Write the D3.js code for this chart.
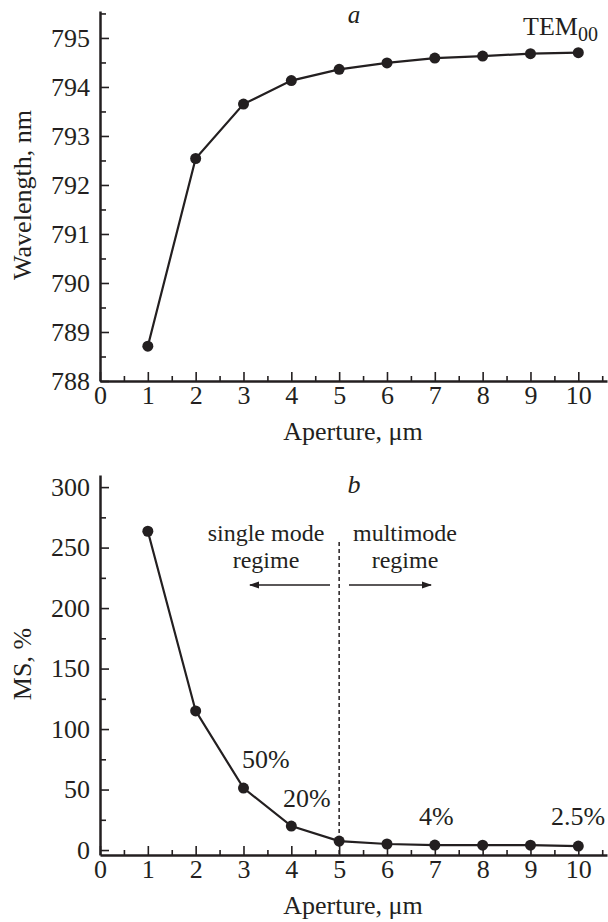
<!DOCTYPE html>
<html>
<head>
<meta charset="utf-8">
<script src="https://cdn.jsdelivr.net/npm/d3@7"></script>
<style>
  body { margin: 0; background: #fff; }
</style>
</head>
<body>
<div id="chart"></div>
<script>
// aperture values, shared by both panels
const aperture = [1, 2, 3, 4, 5, 6, 7, 8, 9, 10];
// panel a: wavelength, nm
const wavelength = [788.71, 792.54, 793.65, 794.13, 794.36, 794.49, 794.59, 794.63, 794.68, 794.70];
// panel b: MS, %
const ms = [263.5, 115, 51.2, 19.8, 7.4, 5.0, 4.1, 4.0, 4.0, 3.3];

const xTicks = d3.range(0, 11);
const xMinor = d3.range(0.5, 10.6, 1);
const yTicksA = d3.range(788, 796);
const yMinorA = d3.range(788.5, 795.6, 1);
const yTicksB = [0, 50, 100, 150, 200, 250, 300];
const yMinorB = [25, 75, 125, 175, 225, 275];

const width = 608, height = 922;
const ink = '#231f20';
const serif = '"Liberation Serif", "Times New Roman", Tinos, "Noto Serif", "DejaVu Serif", serif';
const fs = 26;

const svg = d3.select('#chart')
  .append('svg')
  .attr('width', width)
  .attr('height', height)
  .attr('font-family', serif);

svg.append('defs').append('marker')
  .attr('id', 'arrow')
  .attr('viewBox', '0 0 10 10')
  .attr('refX', 9).attr('refY', 5)
  .attr('markerWidth', 11).attr('markerHeight', 10)
  .attr('markerUnits', 'userSpaceOnUse')
  .attr('orient', 'auto')
  .append('path')
    .attr('d', 'M0,1.5 L10,5 L0,8.5 Z')
    .attr('fill', ink);

const x = d3.scaleLinear().domain([0, 10.6]).range([100, 607]);

function label(g, txt, px, py, opts = {}) {
  return g.append('text')
    .attr('x', px).attr('y', py)
    .attr('text-anchor', opts.anchor || 'start')
    .attr('font-family', serif)
    .attr('font-size', opts.size || fs)
    .attr('font-style', opts.italic ? 'italic' : null)
    .attr('fill', ink)
    .text(txt);
}

function styleAxis(a) {
  a.attr('font-family', serif).attr('font-size', fs);
  a.select('.domain').attr('stroke', ink).attr('stroke-width', 2.5);
  a.selectAll('.tick line').attr('stroke', ink).attr('stroke-width', 1.6);
  a.selectAll('.tick text').attr('fill', ink).attr('font-family', serif);
}

function drawPanel(y, yTicks, yMinor, values, xAxisY, title, titleY) {
  const g = svg.append('g');

  // x axis
  g.append('g')
    .attr('transform', `translate(0,${xAxisY})`)
    .call(d3.axisBottom(x).tickValues(xTicks).tickSize(-9).tickSizeOuter(0).tickPadding(5))
    .call(styleAxis);
  g.append('g')
    .attr('transform', `translate(0,${xAxisY})`)
    .call(d3.axisBottom(x).tickValues(xMinor).tickSize(-5).tickFormat(''))
    .call(a => a.select('.domain').remove())
    .call(styleAxis);

  // y axis
  g.append('g')
    .attr('transform', 'translate(100,0)')
    .call(d3.axisLeft(y).tickValues(yTicks).tickSize(-9).tickSizeOuter(0).tickPadding(10))
    .call(styleAxis);
  g.append('g')
    .attr('transform', 'translate(100,0)')
    .call(d3.axisLeft(y).tickValues(yMinor).tickSize(-6).tickFormat(''))
    .call(a => a.select('.domain').remove())
    .call(styleAxis);

  // axis titles
  label(g, 'Aperture, μm', 353, xAxisY + 59, { anchor: 'middle' });
  label(g, title, 0, 0, { anchor: 'middle' })
    .attr('transform', `translate(31,${titleY}) rotate(-90)`);

  const line = d3.line().x((d, i) => x(aperture[i])).y(d => y(d));
  g.append('path')
    .datum(values)
    .attr('d', line)
    .attr('fill', 'none')
    .attr('stroke', ink)
    .attr('stroke-width', 2.2);

  g.selectAll('circle')
    .data(values)
    .enter().append('circle')
      .attr('cx', (d, i) => x(aperture[i]))
      .attr('cy', d => y(d))
      .attr('r', 5.5)
      .attr('fill', ink);
  return g;
}

// panel a
const yA = d3.scaleLinear().domain([788, 795.55]).range([381, 11]);
const gA = drawPanel(yA, yTicksA, yMinorA, wavelength, 381, 'Wavelength, nm', 195);

label(gA, 'a', 354, 23, { anchor: 'middle', size: 25, italic: true });
const tem = label(gA, 'TEM', 523, 35);
tem.append('tspan').attr('font-size', 20).attr('dy', 6).text('00');

// panel b
const yB = d3.scaleLinear().domain([-4.1, 310]).range([855, 475]);
const gB = drawPanel(yB, yTicksB, yMinorB, ms, 855, 'MS, %', 664);

label(gB, 'b', 354, 493, { anchor: 'middle', size: 26, italic: true });

// regime divider
gB.append('line')
  .attr('x1', x(5)).attr('x2', x(5))
  .attr('y1', 542).attr('y2', 855)
  .attr('stroke', ink)
  .attr('stroke-width', 1.5)
  .attr('stroke-dasharray', '4,3');

const regimes = [
  { lines: ['single mode', 'regime'], cx: 266, from: 330, to: 250 },
  { lines: ['multimode', 'regime'], cx: 405, from: 349, to: 431 }
];
regimes.forEach(r => {
  r.lines.forEach((s, i) => label(gB, s, r.cx, 541 + i * 27, { anchor: 'middle', size: 24 }));
  gB.append('line')
    .attr('x1', r.from).attr('x2', r.to)
    .attr('y1', 585).attr('y2', 585)
    .attr('stroke', ink).attr('stroke-width', 1.5)
    .attr('marker-end', 'url(#arrow)');
});

const notes = [
  { text: '50%', x: 242, y: 768 },
  { text: '20%', x: 283, y: 807 },
  { text: '4%', x: 419, y: 825 },
  { text: '2.5%', x: 551, y: 825 }
];
notes.forEach(d => label(gB, d.text, d.x, d.y));
</script>
</body>
</html>
